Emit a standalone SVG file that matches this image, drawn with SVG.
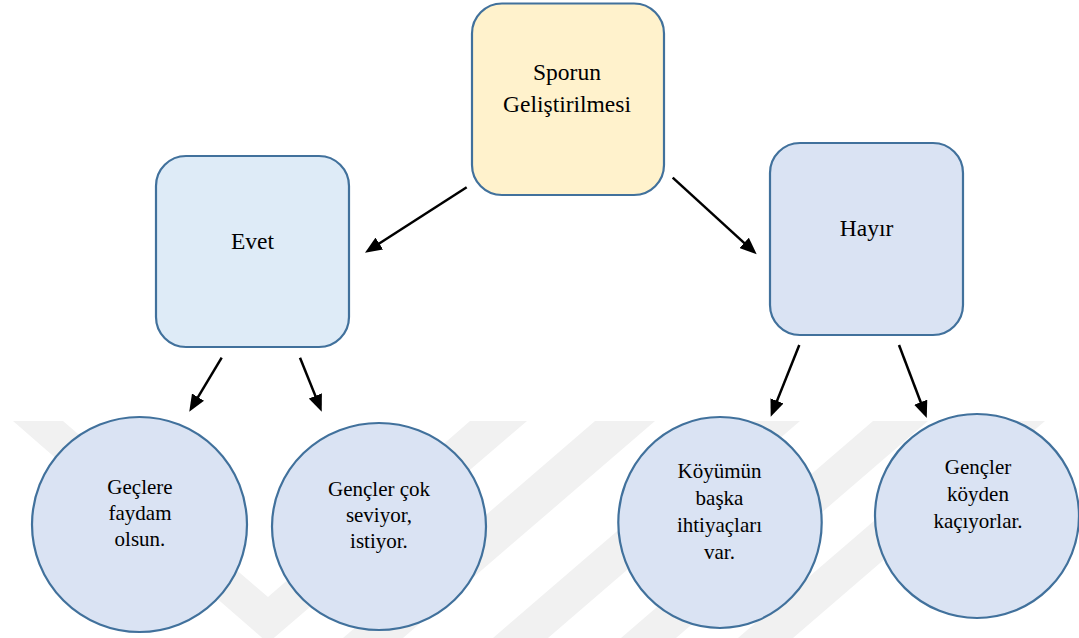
<svg xmlns="http://www.w3.org/2000/svg" width="1079" height="638" viewBox="0 0 1079 638">
<style>
.box{stroke:#41719c;stroke-width:2.2}
text{font-family:"Liberation Serif","DejaVu Serif","Times New Roman",serif;fill:#000;text-anchor:middle}
.big{font-size:23.5px}
.sm{font-size:21px}
.wm{fill:#f1f1f1}
.con{stroke:#000;stroke-width:2.5;fill:none;marker-end:url(#ah)}
</style>
<defs>
<marker id="ah" markerUnits="userSpaceOnUse" viewBox="0 0 17 14" markerWidth="17" markerHeight="14" refX="7" refY="7" orient="auto">
<path d="M0,0 L17,7 L0,14 z" fill="#000"/>
</marker>
</defs>
<rect width="1079" height="638" fill="#fff"/>
<g id="watermark">
<polygon class="wm" points="13,421 63,421 268,597 470,421 527,421 268,643"/>
<polygon class="wm" points="595,421 655,421 403,638 343,638"/>
<polygon class="wm" points="745,421 800,421 548,638 493,638"/>
<polygon class="wm" points="873,421 928,421 676,638 621,638"/>
<polygon class="wm" points="990,421 1045,421 793,638 738,638"/>
</g>
<g id="connectors">
<line class="con" x1="466.7" y1="187.3" x2="373.4" y2="247.3"/>
<line class="con" x1="672.7" y1="177.7" x2="749.3" y2="247.6"/>
<line class="con" x1="221.7" y1="357.7" x2="194.4" y2="403.1"/>
<line class="con" x1="300" y1="357.7" x2="318" y2="402.4"/>
<line class="con" x1="799.3" y1="345" x2="774.4" y2="407.4"/>
<line class="con" x1="899" y1="345" x2="923.2" y2="408.7"/>
</g>
<g id="root">
<rect class="box" x="472" y="3.5" width="192" height="191.5" rx="30" fill="#fff2cc"/>
<text class="big" x="567" y="80">Sporun</text>
<text class="big" x="567" y="112">Geliştirilmesi</text>
</g>
<g id="evet">
<rect class="box" x="156" y="156" width="193" height="191" rx="30" fill="#deebf7"/>
<text class="big" x="252.5" y="249">Evet</text>
</g>
<g id="hayir">
<rect class="box" x="770" y="143" width="193" height="192" rx="30" fill="#dae3f3"/>
<text class="big" x="866.5" y="236">Hayır</text>
</g>
<g id="c1">
<ellipse class="box" cx="139.5" cy="524.5" rx="107.5" ry="107.5" fill="#dae3f3"/>
<text class="sm" x="140" y="494">Geçlere</text>
<text class="sm" x="140" y="520">faydam</text>
<text class="sm" x="140" y="546">olsun.</text>
</g>
<g id="c2">
<ellipse class="box" cx="379" cy="526.5" rx="107" ry="103.5" fill="#dae3f3"/>
<text class="sm" x="379" y="496">Gençler çok</text>
<text class="sm" x="379" y="522">seviyor,</text>
<text class="sm" x="379" y="548">istiyor.</text>
</g>
<g id="c3">
<ellipse class="box" cx="720" cy="522.5" rx="101.7" ry="105.5" fill="#dae3f3"/>
<text class="sm" x="719.5" y="478">Köyümün</text>
<text class="sm" x="719.5" y="505">başka</text>
<text class="sm" x="719.5" y="532">ihtiyaçları</text>
<text class="sm" x="719.5" y="559">var.</text>
</g>
<g id="c4">
<ellipse class="box" cx="977" cy="516" rx="102" ry="102" fill="#dae3f3"/>
<text class="sm" x="978" y="474">Gençler</text>
<text class="sm" x="978" y="501">köyden</text>
<text class="sm" x="978" y="527.5">kaçıyorlar.</text>
</g>
</svg>
